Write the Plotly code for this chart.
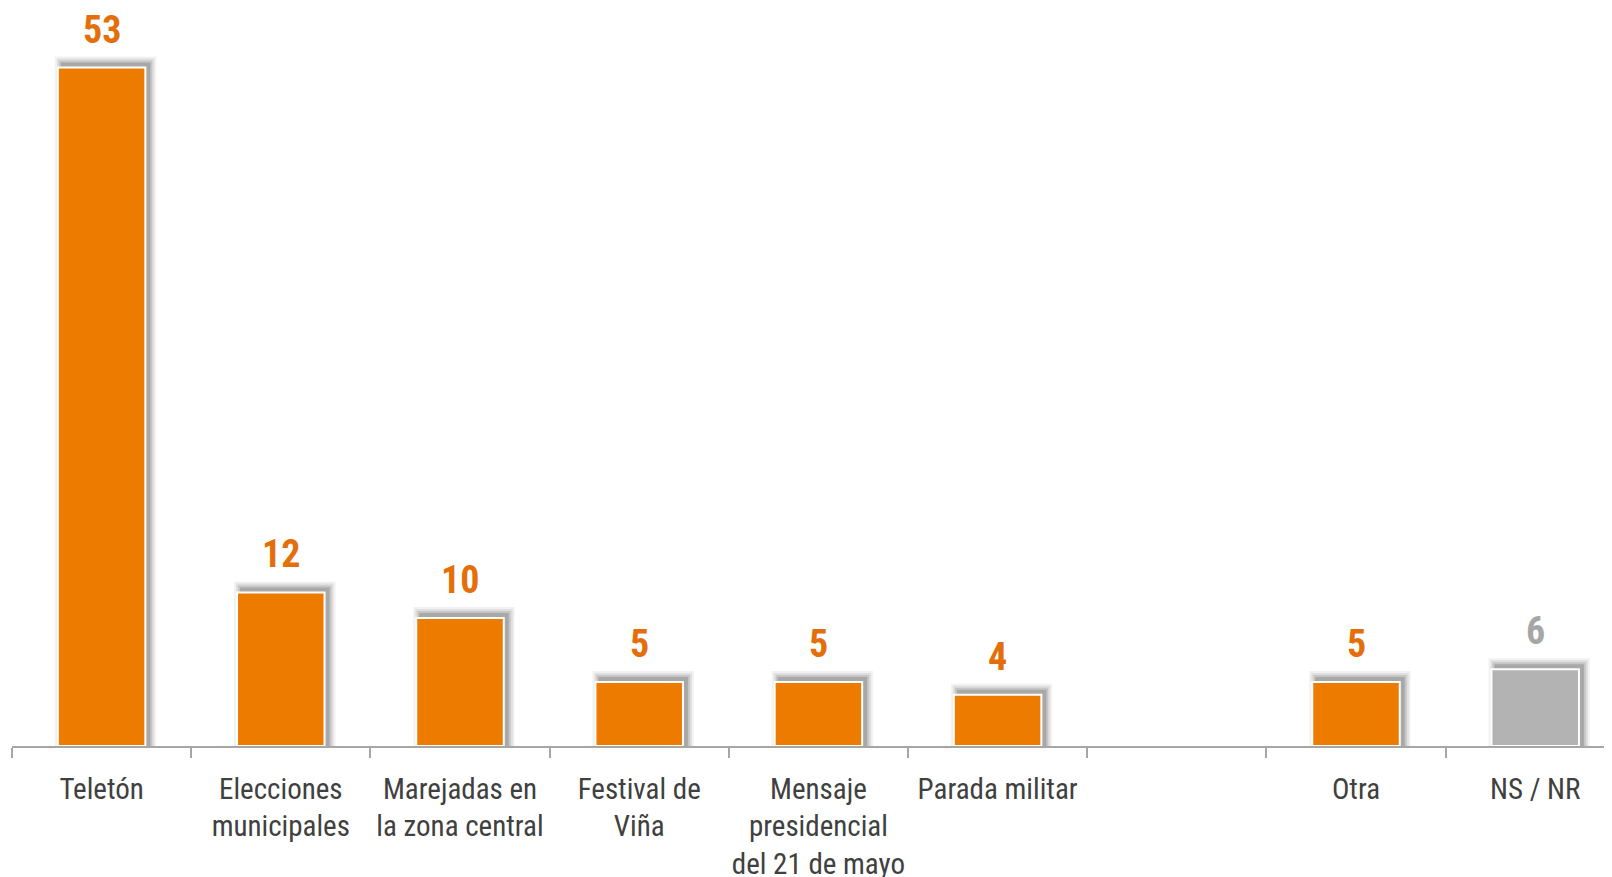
import plotly.graph_objects as go

categories = ["Teletón", "Elecciones<br>municipales", "Marejadas en<br>la zona central",
              "Festival de<br>Viña", "Mensaje<br>presidencial<br>del 21 de mayo",
              "Parada militar", " ", "Otra", "NS / NR"]
values = [53, 12, 10, 5, 5, 4, None, 5, 6]
bar_colors = ["#ED7B00"] * 8 + ["#B3B3B3"]
label_colors = ["#E46F0A"] * 8 + ["#A6A6A6"]

FONT = "Roboto Condensed, DejaVu Sans Condensed, Liberation Sans, Arial, sans-serif"

# page body has an 8px margin: size the figure so the plot lands where the reference has it
W, H = 1604, 869
ML, MR, MT, MB = 4, 0, 2, 131
plot_w = W - ML - MR
plot_h = H - MT - MB
px_per_cat = 179.2
px_per_unit = 12.8
x_range = [-0.5, -0.5 + plot_w / px_per_cat]
y_range = [0, plot_h / px_per_unit]

bar_w_px = 87.5
bar_w = bar_w_px / px_per_cat

fig = go.Figure()

# soft shadow layers (offset up-right, blurred by stacking)
dx, dy = 4, 4
for s, a in [(7, 0.05), (5, 0.08), (3, 0.11), (1, 0.15)]:
    fig.add_trace(go.Bar(
        x=categories,
        y=[None if v is None else v + (dy + s) / px_per_unit for v in values],
        width=(bar_w_px + 2 * s) / px_per_cat,
        offset=(-bar_w_px / 2 + dx - s) / px_per_cat,
        marker=dict(color=f"rgba(0,0,0,{a})", line=dict(width=0)),
        hoverinfo="skip", showlegend=False,
    ))

fig.add_trace(go.Bar(
    x=categories, y=values, width=bar_w,
    marker=dict(color=bar_colors, line=dict(color="white", width=2)),
    showlegend=False,
))

for c, v, col in zip(categories, values, label_colors):
    if v is None:
        continue
    fig.add_annotation(x=c, y=v, text=f"<b>{v}</b>", showarrow=False,
                       yanchor="middle", yshift=38,
                       font=dict(family=FONT, size=38, color=col))

fig.update_layout(
    width=W, height=H,
    margin=dict(l=ML, r=MR, t=MT, b=MB, autoexpand=False),
    plot_bgcolor="white", paper_bgcolor="white",
    barmode="overlay",
    xaxis=dict(type="category", categoryorder="array", categoryarray=categories,
               range=x_range, tickson="boundaries", ticks="outside", ticklen=10,
               tickcolor="#A6A6A6", tickwidth=1.5, showline=True, linecolor="#A6A6A6",
               linewidth=1.5, showgrid=False, zeroline=False, tickangle=0,
               automargin=False, ticklabelstandoff=16,
               tickfont=dict(family=FONT, size=29, color="#404040")),
    yaxis=dict(range=y_range, visible=False, showgrid=False, zeroline=False,
               automargin=False),
)

fig.write_html("out.html")
